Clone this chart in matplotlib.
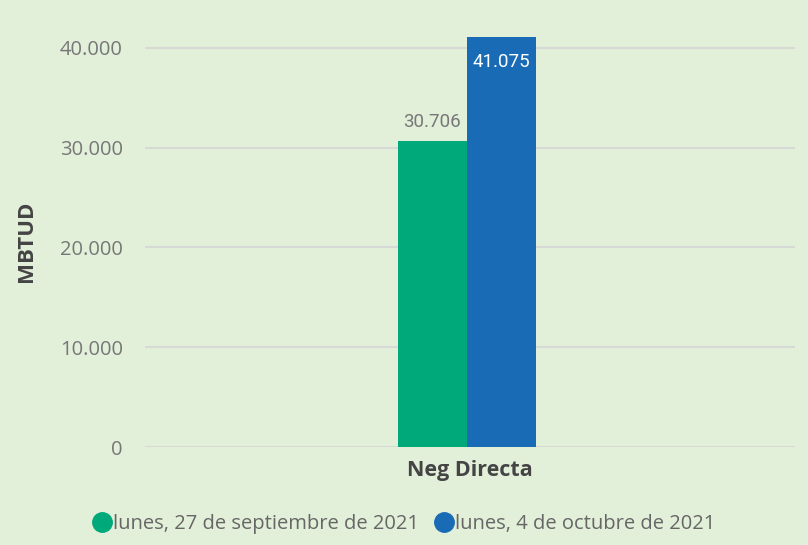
import matplotlib.pyplot as plt
from matplotlib.lines import Line2D

# Data
categories = ['Neg Directa']
series_names = ['lunes, 27 de septiembre de 2021', 'lunes, 4 de octubre de 2021']
series_values = [[30706], [41075]]
series_colors = ['#00A97A', '#1A6BB5']
y_ticks = [0, 10000, 20000, 30000, 40000]


def fmt_num(v):
    # Spanish thousands separator
    return f"{v:,.0f}".replace(',', '.')


bg = '#E2EFD9'
fig = plt.figure(figsize=(8.08, 5.45), dpi=100, facecolor=bg)
ax = fig.add_axes([0.1795, 0.1798, 0.8045, 0.7688], facecolor=bg)

bar_w = 0.106
offsets = [-bar_w / 2, bar_w / 2]
for i, vals in enumerate(series_values):
    xs = [k + offsets[i] - 0.005 for k in range(len(categories))]
    bars = ax.bar(xs, vals, width=bar_w, color=series_colors[i], zorder=3)
    for b, v in zip(bars, vals):
        if i == 0:
            ax.annotate(fmt_num(v), (b.get_x() + b.get_width() / 2, v),
                        xytext=(0, 7), textcoords='offset points', ha='center',
                        va='bottom', fontsize=13.5, color='#777777', family='Roboto')
        else:
            ax.annotate(fmt_num(v), (b.get_x() + b.get_width() / 2, v),
                        xytext=(0, -11), textcoords='offset points', ha='center',
                        va='top', fontsize=13.5, color='white', family='Roboto')

ax.set_xlim(-0.5, 0.5)
ax.set_ylim(0, 42000)
ax.set_yticks(y_ticks)
ax.set_yticklabels([fmt_num(t) for t in y_ticks], fontsize=14.5, color='#777777', family='Open Sans')
ax.set_xticks(range(len(categories)))
ax.set_xticklabels(categories, fontsize=15.5, fontweight='bold', color='#444444', family='Open Sans')
ax.tick_params(axis='both', length=0)
ax.tick_params(axis='x', pad=9)
ax.tick_params(axis='y', pad=16)
ax.grid(axis='y', color='#D6D9D6', linewidth=1.5, zorder=0)
for s in ax.spines.values():
    s.set_visible(False)

ax.set_ylabel('MBTUD', fontsize=16, fontweight='bold', color='#444444', family='Open Sans')
ax.yaxis.set_label_coords(-0.166, 0.49)

handles = [Line2D([0], [0], marker='o', color='none', markerfacecolor=c, markeredgecolor=c,
                  markersize=14) for c in series_colors]
fig.legend(handles, series_names, loc='center', bbox_to_anchor=(0.499, 0.038), ncol=2,
           frameon=False, handletextpad=0.0, columnspacing=0.7, handlelength=1.1,
           prop={'family': 'Open Sans', 'size': 14.5}, labelcolor='#666666')

fig.savefig('out.png', dpi=100, facecolor=bg)
